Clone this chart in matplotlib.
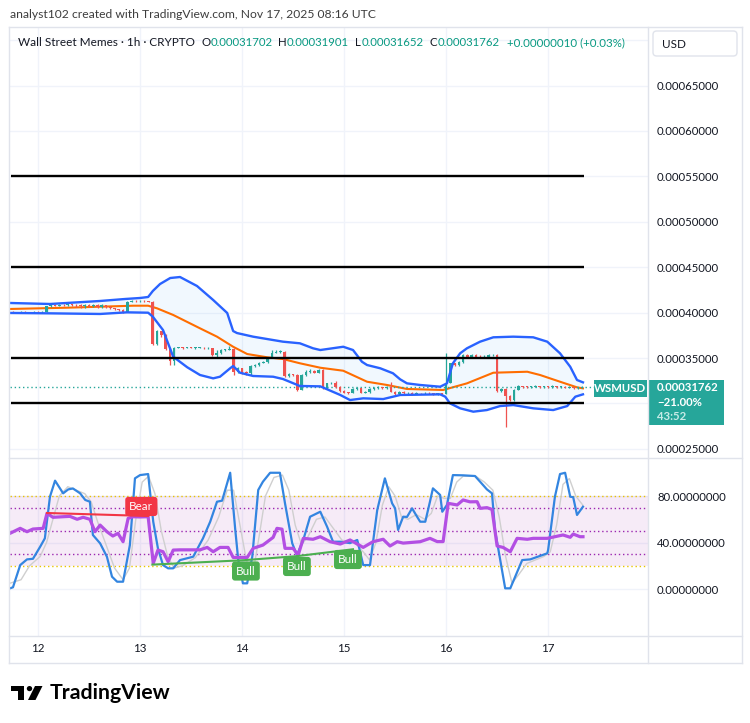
import numpy as np
import matplotlib
matplotlib.use("Agg")
import matplotlib.pyplot as plt
from matplotlib.patches import Rectangle, FancyBboxPatch, Polygon, Circle
from matplotlib.transforms import blended_transform_factory
from matplotlib.lines import Line2D

plt.rcParams['font.family'] = ['Lato', 'DejaVu Sans']

# ---------------- data ----------------
PRICE_UNIT = 1e-5          # all prices below are in units of 0.00001
HOURS = list(range(-6, 129))  # hourly bars, hours since Nov 12 00:00 UTC

OPENS = [40.10, 40.05, 40.00, 40.10, 40.05, 40.00,
         40.10, 40.05, 40.10, 40.70, 40.85, 40.75, 40.85, 40.80, 40.90, 40.85,
         40.80, 40.70, 40.85, 40.75, 40.85, 40.60, 40.80, 40.65, 40.50, 40.40,
         40.30, 40.10, 41.20, 41.30, 41.25, 41.30, 41.25, 41.20, 36.50, 38.00,
         37.50, 36.00, 34.70, 36.10, 36.15, 36.10, 36.15, 36.10, 36.10, 36.15,
         36.05, 36.10, 35.30, 35.50, 35.90, 35.90, 36.00, 33.50, 33.90, 33.50,
         33.40, 34.10, 34.20, 34.50, 34.60, 35.00, 35.60, 35.70, 35.70, 33.00,
         33.20, 33.10, 31.50, 33.10, 33.50, 33.60, 33.40, 33.70, 31.70, 32.20,
         32.30, 31.80, 31.40, 31.20, 31.15, 31.60, 31.70, 31.20, 31.30, 31.60,
         31.70, 31.80, 31.70, 31.80, 31.30, 31.00, 31.30, 31.10, 31.20, 31.05,
         31.15, 31.10, 31.20, 31.10, 31.00, 31.10, 31.05, 32.25, 34.40, 34.20,
         34.60, 35.30, 35.10, 35.30, 35.10, 35.00, 35.05, 35.30, 35.30, 31.40,
         31.60, 30.80, 30.40, 31.50, 31.90, 31.85, 31.80, 31.85, 31.90, 31.80,
         31.85, 31.80, 31.90, 31.80, 31.85, 31.75, 31.80, 31.70, 31.702]
HIGHS = [40.15, 40.10, 40.15, 40.15, 40.10, 40.15,
         40.15, 40.20, 40.75, 40.95, 40.90, 40.95, 40.95, 41.00, 41.00, 40.95,
         40.90, 40.95, 40.90, 41.00, 40.95, 40.90, 40.85, 40.70, 40.55, 40.45,
         40.35, 41.30, 41.35, 41.35, 41.35, 41.35, 41.30, 41.25, 38.10, 38.00,
         37.60, 36.10, 36.20, 36.25, 36.20, 36.25, 36.20, 36.20, 36.25, 36.20,
         36.20, 36.15, 35.90, 36.00, 36.00, 36.30, 36.10, 34.00, 33.95, 33.60,
         34.20, 34.30, 34.60, 34.70, 35.10, 35.90, 35.90, 35.90, 35.80, 33.30,
         33.25, 33.20, 33.20, 33.70, 33.80, 33.70, 33.80, 33.75, 32.30, 32.40,
         32.50, 31.90, 31.50, 31.30, 31.70, 31.80, 31.75, 31.40, 31.70, 31.80,
         31.90, 31.85, 31.90, 32.40, 31.35, 31.40, 31.35, 31.30, 31.25, 31.25,
         31.20, 31.30, 31.25, 31.15, 31.20, 31.15, 35.50, 34.50, 34.50, 34.70,
         35.40, 35.40, 35.40, 35.40, 35.30, 35.30, 35.40, 35.40, 35.40, 31.70,
         31.70, 30.90, 31.60, 32.00, 31.95, 31.95, 31.95, 32.00, 31.95, 31.95,
         31.90, 32.00, 31.95, 31.95, 31.90, 31.90, 31.85, 31.80, 31.901]
LOWS = [40.00, 39.95, 39.95, 40.00, 39.95, 39.95,
        40.00, 40.00, 40.05, 40.65, 40.70, 40.70, 40.75, 40.75, 40.75, 40.60,
        40.55, 40.55, 40.60, 40.65, 40.50, 40.55, 40.55, 40.40, 40.30, 40.20,
        40.00, 40.05, 41.15, 41.20, 41.20, 41.20, 41.15, 36.40, 36.40, 37.30,
        35.90, 34.20, 34.20, 36.05, 36.00, 36.05, 36.05, 36.00, 36.05, 36.00,
        36.00, 35.25, 35.05, 35.40, 35.80, 35.85, 33.10, 33.40, 33.20, 33.10,
        33.10, 34.00, 34.10, 34.40, 34.50, 34.95, 35.50, 35.60, 32.90, 32.90,
        33.00, 31.40, 31.45, 33.00, 33.40, 33.30, 33.30, 31.60, 31.60, 32.10,
        31.70, 31.30, 31.10, 31.05, 31.10, 31.50, 31.10, 31.10, 31.20, 31.50,
        31.60, 31.60, 31.60, 31.25, 30.90, 30.95, 31.00, 31.05, 30.95, 31.00,
        31.00, 31.05, 31.00, 30.95, 30.95, 30.95, 31.00, 32.20, 34.10, 34.10,
        34.50, 35.00, 35.05, 35.00, 34.95, 34.95, 35.00, 35.20, 31.30, 31.30,
        27.40, 30.30, 30.30, 31.45, 31.75, 31.70, 31.75, 31.80, 31.70, 31.75,
        31.70, 31.75, 31.70, 31.75, 31.65, 31.70, 31.60, 31.60, 31.652]
CLOSES = [40.05, 40.00, 40.10, 40.05, 40.00, 40.10,
          40.05, 40.10, 40.70, 40.85, 40.75, 40.85, 40.80, 40.90, 40.85, 40.80,
          40.70, 40.85, 40.75, 40.85, 40.60, 40.80, 40.65, 40.50, 40.40, 40.30,
          40.10, 41.20, 41.30, 41.25, 41.30, 41.25, 41.20, 36.50, 38.00, 37.50,
          36.00, 34.70, 36.10, 36.15, 36.10, 36.15, 36.10, 36.10, 36.15, 36.05,
          36.10, 35.30, 35.50, 35.90, 35.90, 36.00, 33.50, 33.90, 33.50, 33.40,
          34.10, 34.20, 34.50, 34.60, 35.00, 35.60, 35.70, 35.70, 33.00, 33.20,
          33.10, 31.50, 33.10, 33.50, 33.60, 33.40, 33.70, 31.70, 32.20, 32.30,
          31.80, 31.40, 31.20, 31.15, 31.60, 31.70, 31.20, 31.30, 31.60, 31.70,
          31.80, 31.70, 31.80, 31.30, 31.00, 31.30, 31.10, 31.20, 31.05, 31.15,
          31.10, 31.20, 31.10, 31.00, 31.10, 31.05, 32.25, 34.40, 34.20, 34.60,
          35.30, 35.10, 35.30, 35.10, 35.00, 35.05, 35.30, 35.30, 31.40, 31.60,
          30.80, 30.40, 31.50, 31.90, 31.85, 31.80, 31.85, 31.90, 31.80, 31.85,
          31.80, 31.90, 31.80, 31.85, 31.75, 31.80, 31.70, 31.702, 31.762]

# Bollinger bands
BB_UPPER_H = [-6.6, 2.8, 14.6, 20.5, 24.0, 25.9, 27.0, 28.7, 31.1, 33.4, 37.4, 41.2, 44.5, 45.9, 46.8,
              50.6, 57.6, 61.6, 64.7, 66.4, 71.8, 74.1, 76.2, 77.4, 80.5, 83.5, 85.2, 86.8, 89.9,
              94.6, 96.2, 97.6, 99.3, 100.9, 104.0, 107.1, 111.8, 116.5, 119.8, 122.8, 125.2,
              126.8, 128.2]
BB_UPPER = [41.06, 40.95, 41.28, 41.50, 41.61, 41.72, 42.38, 43.15, 43.81, 43.92, 42.93, 41.39, 39.96,
            37.97, 37.75, 37.35, 36.80, 36.62, 36.07, 35.88, 36.24, 35.88, 34.59, 34.23, 33.87,
            33.32, 32.65, 32.21, 32.03, 31.84, 32.21, 34.42, 35.52, 36.07, 36.80, 37.28, 37.35,
            37.28, 36.80, 35.52, 34.04, 32.58, 32.32]
BB_LOWER_H = [-6.6, 2.8, 14.6, 20.9, 25.9, 27.0, 29.4, 31.8, 35.1, 38.1, 41.2, 42.8, 45.2, 45.9, 47.5,
              50.6, 55.3, 57.6, 61.6, 66.4, 71.1, 73.4, 76.5, 81.2, 85.2, 94.6, 95.8, 96.9, 99.3,
              102.4, 105.6, 108.7, 111.8, 116.5, 121.2, 124.5, 126.4, 128.2]
BB_LOWER = [39.96, 39.92, 39.85, 40.03, 39.99, 39.55, 38.08, 35.14, 33.98, 33.13, 32.76, 32.94, 33.87,
            34.12, 33.38, 33.02, 32.94, 32.69, 31.92, 31.88, 30.93, 30.37, 30.56, 30.48, 30.93,
            31.00, 30.74, 30.01, 29.46, 29.09, 29.27, 29.71, 29.82, 29.46, 29.27, 29.71, 30.74,
            31.00]
BB_BASIS_H = [-6.6, 6.8, 22.4, 25.9, 28.0, 31.8, 38.1, 42.1, 45.9, 49.2, 53.9, 57.6, 61.6, 66.4,
              71.8, 77.4, 82.1, 86.8, 95.3, 100.9, 107.1, 115.1, 118.1, 122.8, 126.8, 128.2]
BB_BASIS = [40.40, 40.54, 40.76, 40.76, 40.47, 39.74, 38.27, 37.35, 36.24, 35.44, 35.08, 34.89,
            34.42, 33.93, 33.60, 32.39, 32.03, 31.59, 31.48, 32.21, 33.38, 33.49, 33.13, 32.39,
            31.77, 31.66]

LEVELS = [55.0, 45.0, 35.0, 30.0]
LAST_PRICE = 31.762

# RSI and Stochastic RSI
RSI_H = [-6.6, -4.2, -2.6, -1.2, 1.2, 2.1, 3.5, 5.9, 7.5, 9.2, 10.6, 12.2, 13.4, 14.6, 16.2, 17.6,
         18.8, 20.0, 21.2, 22.4, 24.0, 25.9, 27.1, 28.2, 29.4, 30.6, 31.8, 33.4, 38.1, 39.8, 41.2,
         42.8, 44.7, 45.9, 47.5, 49.2, 50.6, 52.9, 55.3, 56.2, 57.4, 58.1, 60.0, 61.2, 62.4, 64.7,
         66.4, 68.7, 71.1, 73.4, 76.5, 78.8, 81.2, 82.8, 84.5, 85.9, 89.9, 92.2, 93.9, 95.3, 96.5,
         98.6, 100.0, 101.6, 103.3, 104.0, 105.6, 106.8, 108.0, 109.4, 111.1, 112.7, 115.1, 116.5,
         119.8, 123.5, 125.2, 125.9, 127.5, 128.2]
RSI_V = [47.9, 52.2, 49.3, 51.6, 52.2, 65.1, 61.7, 62.2, 62.5, 60.0, 61.7, 60.0, 49.3, 55.0, 49.3,
         45.6, 47.9, 40.7, 60.8, 62.2, 62.0, 62.2, 22.1, 33.5, 32.1, 23.5, 33.5, 33.7, 33.7, 35.8,
         32.1, 35.8, 35.8, 27.2, 27.2, 27.2, 35.0, 37.8, 44.4, 52.2, 51.5, 35.0, 35.0, 29.2, 43.6,
         42.8, 45.0, 40.7, 38.7, 42.2, 35.8, 40.7, 42.8, 37.0, 40.7, 39.5, 40.7, 43.6, 40.8, 40.8,
         73.7, 72.3, 76.6, 75.0, 75.1, 69.4, 70.0, 68.5, 37.0, 35.8, 32.1, 43.6, 42.8, 43.6, 43.6,
         46.5, 44.5, 47.3, 45.0, 45.0]
K_H = [-6.6, -5.9, -4.2, -2.6, -1.2, 0.5, 1.6, 2.8, 4.0, 5.9, 7.1, 8.2, 9.9, 11.1, 12.2, 12.9, 14.6,
       16.2, 17.4, 18.6, 20.0, 21.6, 22.8, 24.0, 25.9, 27.1, 28.2, 29.4, 30.6, 31.8, 33.4, 36.5,
       38.8, 40.5, 42.1, 43.3, 45.2, 46.4, 47.1, 48.2, 49.2, 50.4, 51.8, 52.9, 54.6, 56.9, 58.1,
       59.8, 60.9, 62.4, 64.0, 66.4, 68.0, 69.4, 71.1, 73.4, 75.1, 76.5, 78.1, 79.8, 81.6, 83.3,
       84.0, 84.7, 85.9, 86.8, 88.0, 89.2, 89.9, 91.1, 92.2, 92.9, 94.6, 95.1, 96.2, 97.6, 100.0,
       102.8, 104.0, 105.6, 106.8, 107.5, 109.9, 111.1, 113.9, 115.8, 119.8, 120.0, 121.6, 122.8,
       124.0, 125.2, 125.9, 126.8, 128.2]
K_V = [0.6, 1.5, 20.6, 25.5, 26.0, 36.4, 43.6, 79.4, 93.2, 82.3, 85.7, 86.5, 82.3, 76.6, 75.1, 46.5,
       39.3, 27.8, 10.6, 6.3, 6.3, 37.8, 95.2, 98.0, 98.9, 57.9, 35.0, 20.6, 17.8, 17.8, 24.9, 27.8,
       43.6, 57.9, 75.1, 76.0, 100.0, 50.8, 25.0, 4.9, 4.9, 27.8, 85.2, 92.3, 100.0, 100.0, 73.7,
       39.3, 29.2, 42.2, 62.2, 66.5, 53.6, 40.7, 40.7, 39.5, 42.2, 20.6, 20.6, 68.0, 95.2, 73.7,
       69.4, 50.8, 62.2, 62.0, 69.4, 62.0, 57.9, 57.9, 75.1, 86.6, 80.9, 66.5, 72.3, 98.0, 97.8,
       97.2, 92.3, 85.7, 82.3, 50.8, 0.6, 0.6, 24.9, 25.5, 30.7, 33.5, 79.4, 98.9, 100.0, 79.4,
       79.0, 63.7, 70.8]
D_H = [-6.6, -4.0, -2.0, 0.5, 2.0, 3.5, 5.0, 7.0, 9.0, 11.0, 12.5, 14.0, 16.0, 18.0, 20.0, 21.5,
       23.0, 24.5, 26.0, 27.5, 29.0, 30.5, 32.0, 34.0, 37.0, 40.0, 42.5, 44.5, 46.0, 47.5, 49.0,
       50.5, 52.0, 53.5, 55.5, 57.5, 59.0, 60.5, 62.0, 63.5, 65.5, 67.5, 69.5, 71.5, 74.5, 76.5,
       78.0, 79.5, 81.0, 82.5, 84.0, 85.5, 87.0, 89.0, 91.0, 92.5, 94.0, 95.5, 97.0, 98.5, 100.0,
       103.0, 105.0, 107.0, 108.5, 110.0, 111.5, 113.0, 115.0, 119.0, 120.5, 122.0, 123.5, 125.0,
       126.5, 128.2]
D_V = [5, 8, 20, 28, 40, 60, 80, 88, 85, 82, 75, 58, 38, 18, 8, 18, 60, 92, 97, 82, 50, 28, 18, 20,
       27, 42, 62, 85, 85, 55, 25, 12, 45, 80, 96, 98, 85, 55, 38, 45, 60, 62, 52, 42, 40, 32, 25,
       40, 72, 88, 80, 62, 60, 64, 60, 65, 80, 78, 78, 92, 97, 97, 92, 85, 62, 28, 5, 12, 22, 28,
       32, 55, 90, 95, 80, 72]
BEAR_H = [2.1, 25.9]
BEAR_V = [65.4, 62.8]
BULL_H = [26.9, 48.4, 60.9, 74.1]
BULL_V = [21.0, 24.8, 28.3, 34.2]
BULL_LABEL_H = [48.9, 60.9, 72.9]
BULL_LABEL_V = [15.5, 19.4, 25.4]
BEAR_LABEL_HV = (24.3, 71.0)

DAY_TICKS = [0, 24, 48, 72, 96, 120]
DAY_LABELS = ['12', '13', '14', '15', '16', '17']
PRICE_TICKS = [25, 30, 35, 40, 45, 50, 55, 60, 65, 70]
PRICE_HIDDEN = [30, 70]
OSC_TICKS = [0, 40, 80]

HEADER = "analyst102 created with TradingView.com, Nov 17, 2025 08:16 UTC"
SYMBOL = "Wall Street Memes · 1h · CRYPTO"
OHLC = [("O", "0.00031702"), ("H", "0.00031901"), ("L", "0.00031652"), ("C", "0.00031762")]
CHANGE = "+0.00000010 (+0.03%)"
PCT = "\u221221.00%"
COUNTDOWN = "43:52"

# ---------------- style ----------------
GREEN = '#26a69a'
RED = '#ef5350'
TXT = '#131722'
GRID = '#f0f3fa'
BORDER = '#e0e3eb'
W, H = 750, 723

fig = plt.figure(figsize=(7.5, 7.23), dpi=100)
fig.patch.set_facecolor('white')


def fr(x0, y0, x1, y1):
    return [x0 / W, 1 - y1 / H, (x1 - x0) / W, (y1 - y0) / H]


def fx(x):
    return x / W


def fy(y):
    return 1 - y / H


XL = (-6.6, 143.5)
ax = fig.add_axes(fr(10, 27, 648, 458))
ax2 = fig.add_axes(fr(10, 458, 648, 636))
axt = fig.add_axes(fr(10, 636, 648, 662))

# ---- main pane ----
ax.set_xlim(*XL)
ax.set_ylim(23.99, 71.45)
for y in PRICE_TICKS:
    ax.axhline(y, color=GRID, lw=1, zorder=0)
for d in DAY_TICKS:
    ax.axvline(d, color=GRID, lw=1, zorder=0)

o = np.array(OPENS); c = np.array(CLOSES)
hi = np.array(HIGHS); lo = np.array(LOWS); hx = np.array(HOURS)
cols = [GREEN if cc >= oo else RED for oo, cc in zip(o, c)]
ax.fill(np.concatenate([BB_UPPER_H, BB_LOWER_H[::-1]]),
        np.concatenate([BB_UPPER, BB_LOWER[::-1]]),
        color='#2196f3', alpha=0.06, lw=0, zorder=1)
ax.plot(BB_BASIS_H, BB_BASIS, color='#ff6d00', lw=1.5, zorder=2)
ax.vlines(hx, lo, hi, colors=cols, lw=0.9, zorder=3)
ax.bar(hx, np.maximum(np.abs(c - o), 0.07), bottom=np.minimum(o, c), width=0.62,
       color=cols, lw=0, zorder=4)
ax.plot(BB_UPPER_H, BB_UPPER, color='#2962ff', lw=1.7, zorder=5)
ax.plot(BB_LOWER_H, BB_LOWER, color='#2962ff', lw=1.7, zorder=5)
ax.hlines(LEVELS, -6.3, 128.4, color='black', lw=1.7, zorder=6)
ax.axhline(LAST_PRICE, color=GREEN, ls=(0, (1, 2)), lw=1, zorder=2)

for s in ax.spines.values():
    s.set_visible(False)
ax.yaxis.tick_right()
ax.set_yticks(PRICE_TICKS)
ax.set_yticklabels(['' if t in PRICE_HIDDEN else f"{t * PRICE_UNIT:.8f}" for t in PRICE_TICKS])
ax.tick_params(left=False, bottom=False, labelbottom=False, labelleft=False, labelright=True,
               length=0, pad=6.5, labelsize=8.2, labelcolor=TXT)

# last price labels
bt = blended_transform_factory(ax.transAxes, ax.transData)


def py2p(y):
    return 35 + (358 - y) * 0.11013


ax.add_patch(Rectangle((1.0016, py2p(425)), 0.1175, py2p(380) - py2p(425), transform=bt,
                       fc=GREEN, ec='none', clip_on=False, zorder=10))
ax.text(1.0141, LAST_PRICE, f"{LAST_PRICE * PRICE_UNIT:.8f}", transform=bt, color='white',
        fontsize=8.2, fontweight='bold', va='center', ha='left', zorder=11, clip_on=False)
ax.text(1.0141, py2p(402.7), PCT, transform=bt, color='white', fontsize=8.2,
        va='center', ha='left', zorder=11, clip_on=False, fontweight='bold')
ax.text(1.0141, py2p(416.5), COUNTDOWN, transform=bt, color='#c8ebe7', fontsize=8.2,
        va='center', ha='left', zorder=11, clip_on=False, fontweight='bold')
ax.add_patch(Rectangle((130.8, py2p(396.7)), 12.4, py2p(380) - py2p(396.7),
                       fc=GREEN, ec='none', zorder=10))
ax.text(137.0, py2p(388.3), "WSMUSD", color='white', fontsize=8.2, fontweight='bold',
        ha='center', va='center', zorder=11)

# ---- oscillator pane ----
ax2.set_xlim(*XL)
ax2.set_ylim(-40.4, 112.7)
for y in OSC_TICKS:
    ax2.axhline(y, color=GRID, lw=1, zorder=0)
for d in DAY_TICKS:
    ax2.axvline(d, color=GRID, lw=1, zorder=0)
ax2.axhspan(20, 80, color='#9c27b0', alpha=0.09, lw=0, zorder=1)
for y in (80, 20):
    ax2.axhline(y, color='#e8c500', ls=(0, (1, 2)), lw=1, zorder=2)
for y in (70, 50, 30):
    ax2.axhline(y, color='#9c27b0', ls=(0, (1, 2)), lw=1, zorder=2)
ax2.plot(D_H, D_V, color='#cfcfcf', lw=1.0, zorder=3)
ax2.plot(K_H, K_V, color='#3385e0', lw=1.6, zorder=4)
ax2.plot(RSI_H, RSI_V, color='#b34fe3', lw=2.3, zorder=5)
ax2.plot(BEAR_H, BEAR_V, color='#f23645', lw=1.5, zorder=6)
ax2.plot(BULL_H, BULL_V, color='#4caf50', lw=1.5, zorder=6)
ax2.text(BEAR_LABEL_HV[0], BEAR_LABEL_HV[1], "Bear", color='white', fontsize=8.4,
         ha='center', va='center', zorder=8,
         bbox=dict(boxstyle='round,pad=0.35,rounding_size=0.25', fc='#f23645', ec='none'))
for bh, bv in zip(BULL_LABEL_H, BULL_LABEL_V):
    ax2.text(bh, bv, "Bull", color='white', fontsize=8.4, ha='center', va='center', zorder=8,
             bbox=dict(boxstyle='round,pad=0.35,rounding_size=0.25', fc='#4caf50', ec='none'))
for s in ax2.spines.values():
    s.set_visible(False)
ax2.yaxis.tick_right()
ax2.set_yticks(OSC_TICKS)
ax2.set_yticklabels([f"{t:.8f}" for t in OSC_TICKS])
ax2.tick_params(left=False, bottom=False, labelbottom=False, labelleft=False, labelright=True,
                length=0, pad=6.5, labelsize=8.2, labelcolor=TXT)

# ---- time axis ----
axt.set_xlim(*XL)
axt.set_ylim(0, 1)
axt.axis('off')
for d, lab in zip(DAY_TICKS, DAY_LABELS):
    axt.text(d, 0.5, lab, ha='center', va='center', fontsize=8.4, color=TXT)


# ---- frame ----
def fline(x0, y0, x1, y1, color=BORDER, lw=1.0):
    fig.add_artist(Line2D([fx(x0), fx(x1)], [fy(y0), fy(y1)], color=color, lw=lw,
                          transform=fig.transFigure))


fline(9, 27, 742, 27)
fline(9, 663, 742, 663)
fline(9, 27, 9, 663)
fline(742, 27, 742, 663)
fline(648, 27, 648, 663)
fline(9, 458, 742, 458)
fline(9, 636, 742, 636)

# USD box
fig.add_artist(FancyBboxPatch((fx(653), fy(56)), 84 / W, 25 / H,
                              boxstyle='round,pad=0,rounding_size=0.005',
                              transform=fig.transFigure, fc='white', ec=BORDER, lw=1))
fig.text(fx(662), fy(44), "USD", fontsize=8.4, color=TXT, va='center', ha='left')

# header texts
fig.text(fx(10), fy(15), HEADER, fontsize=8.7, color='#3d3d3d', va='center', ha='left')
fig.text(fx(18), fy(42.5), SYMBOL, fontsize=8.5, color=TXT, va='center', ha='left')
ohlc_x = [(202, 211), (278, 287), (355, 362), (430, 438)]
for (lab, val), (xl, xv) in zip(OHLC, ohlc_x):
    fig.text(fx(xl), fy(42.5), lab, fontsize=8.3, color=TXT, va='center', ha='left')
    fig.text(fx(xv), fy(42.5), val, fontsize=8.2, color='#089981', va='center', ha='left')
fig.text(fx(507), fy(42.5), CHANGE, fontsize=8.3, color='#089981', va='center', ha='left')

# TradingView logo
fig.add_artist(Polygon([[fx(11), fy(686)], [fx(24), fy(686)], [fx(24), fy(700)],
                        [fx(18), fy(700)], [fx(18), fy(691)], [fx(11), fy(691)]],
                       closed=True, fc='black', ec='none', transform=fig.transFigure))
fig.add_artist(Circle((fx(29.5), fy(688.6)), 2.7 / W, fc='black', ec='none',
                      transform=fig.transFigure))
fig.add_artist(Polygon([[fx(35), fy(686)], [fx(42.5), fy(686)], [fx(35.5), fy(700)],
                        [fx(28), fy(700)]], closed=True, fc='black', ec='none',
                       transform=fig.transFigure))
fig.text(fx(50), fy(693), "TradingView", fontsize=15.3, fontweight='bold', color='black',
         va='center', ha='left')

fig.savefig('out.png', dpi=100, facecolor='white')
